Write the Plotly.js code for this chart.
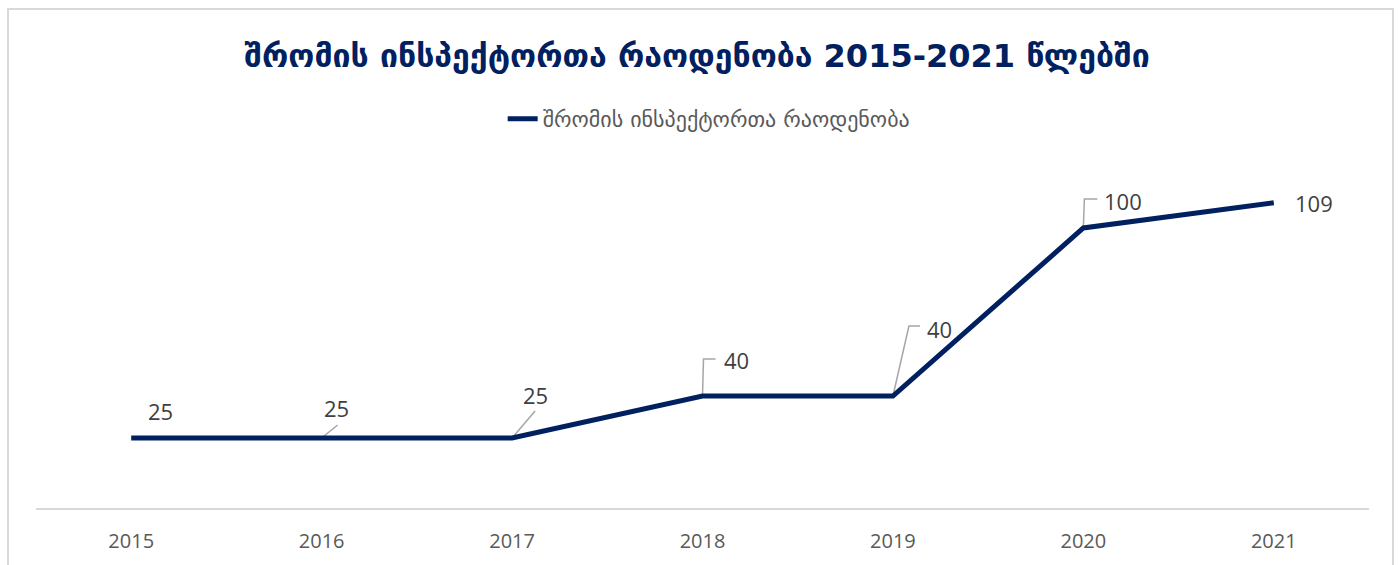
<!DOCTYPE html>
<html>
<head>
<meta charset="utf-8">
<script src="https://cdn.plot.ly/plotly-3.0.1.min.js"></script>
<style>
  html, body { margin: 0; padding: 0; background: #fff; }
  #wrap { position: relative; width: 1400px; height: 565px; overflow: hidden; }
  #frame { position: absolute; left: 7px; top: 8px; width: 1387px; height: 600px; border: 2px solid #d9d9d9; box-sizing: border-box; pointer-events: none; }
  #chart { position: absolute; left: 0; top: 0; width: 1400px; height: 565px; }
</style>
</head>
<body>
<div id="wrap">
  <div id="chart"></div>
  <div id="frame"></div>
</div>
<script>
const years = [2015, 2016, 2017, 2018, 2019, 2020, 2021];
const tickLabels = ["2015", "2016", "2017", "2018", "2019", "2020", "2021"];
const inspectors = [25, 25, 25, 40, 40, 100, 109];
const seriesName = "შრომის ინსპექტორთა რაოდენობა";
const chartTitle = "შრომის ინსპექტორთა რაოდენობა 2015-2021 წლებში";

// label placement offsets (pixels) and leader-line paths (pixels, relative to point)
const labelOffsets = [[29, 27], [15, 30], [23, 43], [34, 36], [47, 67], [40, 27], [40, 0]];
const leaderPaths = [null, "M0,0 L16,13", "M0,0 L23,27", "M0,0 L1,37 L13,37", "M0,0 L16,70 L27,70", "M0,0 L1,29 L14,29", null];

const navy = "#002060";
const textFont = "Open Sans, Noto Sans, DejaVu Sans, sans-serif";

const trace = {
  x: years,
  y: inspectors,
  type: "scatter",
  mode: "lines",
  name: seriesName,
  line: { color: navy, width: 5 },
  hoverinfo: "x+y"
};

const annotations = years.map((yr, i) => ({
  x: yr, y: inspectors[i], xref: "x", yref: "y",
  text: String(inspectors[i]),
  showarrow: false,
  xanchor: "center", yanchor: "middle",
  xshift: labelOffsets[i][0], yshift: labelOffsets[i][1],
  font: { family: textFont, size: 22, color: "#404040" }
}));

const shapes = [];
years.forEach((yr, i) => {
  if (!leaderPaths[i]) return;
  shapes.push({
    type: "path", xref: "x", yref: "y",
    xsizemode: "pixel", ysizemode: "pixel",
    xanchor: yr, yanchor: inspectors[i],
    path: leaderPaths[i],
    line: { color: "#a6a6a6", width: 1.5 },
    layer: "below"
  });
});

const layout = {
  width: 1400, height: 565,
  margin: { l: 36, r: 31, t: 172, b: 57 },
  paper_bgcolor: "rgba(0,0,0,0)",
  plot_bgcolor: "rgba(0,0,0,0)",
  title: {
    text: chartTitle,
    x: 697 / 1400, xanchor: "center",
    y: 1 - 56 / 565, yanchor: "middle", yref: "container",
    font: { family: "DejaVu Sans, Noto Sans, sans-serif", size: 32, color: navy, weight: "bold" }
  },
  showlegend: true,
  legend: {
    orientation: "h",
    x: 0.505, xanchor: "center",
    y: 1 + (172 - 119) / 336, yanchor: "middle",
    font: { family: "DejaVu Sans, Noto Sans, sans-serif", size: 22, color: "#595959" },
    bgcolor: "rgba(0,0,0,0)"
  },
  xaxis: {
    range: [2014.5, 2021.5],
    tickvals: years, ticktext: tickLabels,
    showgrid: false, zeroline: false,
    showline: true, linecolor: "#d9d9d9", linewidth: 2,
    ticks: "", ticklabelstandoff: 14,
    tickfont: { family: textFont, size: 20, color: "#595959" },
    fixedrange: true
  },
  yaxis: {
    range: [0, 120],
    visible: false,
    showgrid: false, zeroline: false,
    fixedrange: true
  },
  annotations: annotations,
  shapes: shapes
};

Plotly.newPlot("chart", [trace], layout, { displayModeBar: false });
</script>
</body>
</html>
